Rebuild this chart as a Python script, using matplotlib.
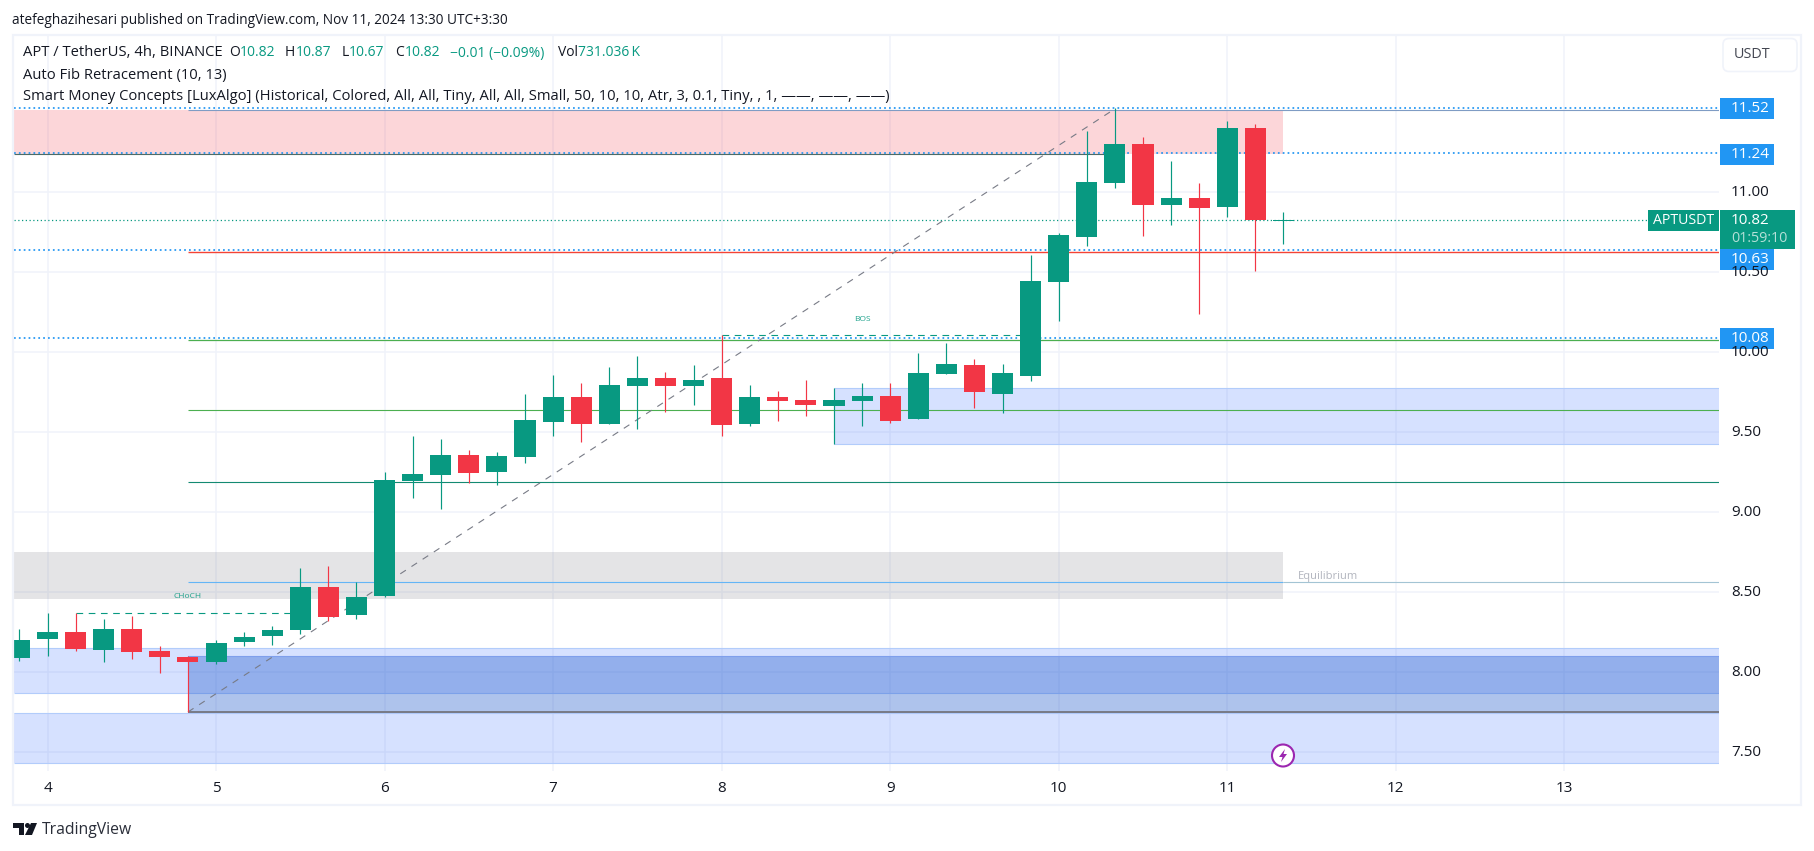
import matplotlib
matplotlib.use("Agg")
import matplotlib.pyplot as plt
from matplotlib.patches import Rectangle, FancyBboxPatch, Polygon, Circle

plt.rcParams['font.family'] = ['Open Sans', 'DejaVu Sans']

# candle index 0 = day 4, six candles per day
first_candle = -1
opens = [8.0875, 8.206, 8.25, 8.1375, 8.269, 8.131, 8.094, 8.0625, 8.1875, 8.225, 8.2625, 8.531, 8.356,
         8.475, 9.192, 9.231, 9.356, 9.25, 9.344, 9.5625, 9.719, 9.55, 9.7875, 9.8375, 9.7875,
         9.8375, 9.55, 9.719, 9.7, 9.6625, 9.694, 9.725, 9.581, 9.8625, 9.919, 9.7375, 9.85,
         10.4375, 10.719, 11.056, 11.3, 10.919, 10.9625, 10.906, 11.4, 10.82]
highs = [8.269, 8.369, 8.369, 8.331, 8.35, 8.1625, 8.10, 8.2, 8.25, 8.2875, 8.65, 8.6625, 8.5625,
         9.25, 9.475, 9.456, 9.3875, 9.375, 9.737, 9.856, 9.806, 9.906, 9.975, 9.875, 9.919,
         10.104, 9.794, 9.756, 9.825, 9.775, 9.806, 9.806, 9.994, 10.056, 9.956, 9.925, 10.606,
         10.742, 11.381, 11.523, 11.344, 11.194, 11.056, 11.444, 11.425, 10.875]
lows = [8.071, 8.10, 8.131, 8.0625, 8.081, 7.994, 7.748, 8.05, 8.1625, 8.169, 8.2375, 8.319, 8.331,
        8.47, 9.087, 9.019, 9.183, 9.169, 9.306, 9.475, 9.4375, 9.55, 9.519, 9.625, 9.669,
        9.475, 9.5375, 9.569, 9.6, 9.425, 9.5375, 9.556, 9.581, 9.8625, 9.65, 9.619, 9.819,
        10.194, 10.6625, 11.025, 10.725, 10.794, 10.2375, 10.844, 10.506, 10.675]
closes = [8.2, 8.25, 8.144, 8.269, 8.125, 8.094, 8.0625, 8.181, 8.219, 8.2625, 8.531, 8.344, 8.469,
          9.2, 9.237, 9.356, 9.244, 9.35, 9.575, 9.719, 9.55, 9.794, 9.8375, 9.7875, 9.825,
          9.544, 9.719, 9.694, 9.669, 9.7, 9.725, 9.569, 9.869, 9.925, 9.75, 9.869, 10.444,
          10.731, 11.0625, 11.3, 10.919, 10.9625, 10.9, 11.4, 10.825, 10.82]

price_ticks = [7.5, 8.0, 8.5, 9.0, 9.5, 10.0, 10.5, 11.0]
day_labels = ['4', '5', '6', '7', '8', '9', '10', '11', '12', '13']
fib_levels = [11.52, 11.24, 10.63, 10.08]
fib_tag_y = [108.5, 154.5, 259.5, 338.5]
last_price = 10.82

GREEN = '#089981'
RED = '#f23645'
BLUE = '#2196f3'
GRID = '#f0f3fa'
TEXT = '#131722'

W, H = 1814, 851
X0, X1 = 14, 1719
Y0, Y1 = 36, 771
PX_PER_CANDLE = 28.09


def main():
    fig = plt.figure(figsize=(W / 100, H / 100), dpi=100, facecolor='white')
    ax = fig.add_axes([X0 / W, 1 - Y1 / H, (X1 - X0) / W, (Y1 - Y0) / H])
    xmin = (X0 - 47.5) / PX_PER_CANDLE
    xmax = (X1 - 47.5) / PX_PER_CANDLE
    ax.set_xlim(xmin, xmax)
    ax.set_ylim(11 - (Y1 - 192) / 160, 11 + (192 - Y0) / 160)
    for s in ax.spines.values():
        s.set_visible(False)
    ax.set_xticks([])
    ax.set_yticks([])

    for p in price_ticks:
        ax.axhline(p, color=GRID, lw=1.1, zorder=1)
    for i in range(len(day_labels)):
        ax.axvline(i * 6, color=GRID, lw=1.1, zorder=1)

    # zones
    def zone(x_a, x_b, y_a, y_b, color, alpha, edge=None):
        ax.add_patch(Rectangle((x_a, y_b), x_b - x_a, y_a - y_b, facecolor=color, alpha=alpha, lw=0, zorder=2))
        if edge:
            ax.hlines([y_a, y_b], x_a, x_b, color=edge, lw=0.8, zorder=2)

    zone(xmin, 44, 11.51, 11.24, RED, 0.2)
    zone(xmin, 44, 8.75, 8.456, '#787b86', 0.2)
    zone(xmin, xmax, 8.15, 7.87, '#2962ff', 0.19, '#b2ccfb')
    zone(xmin, xmax, 7.744, 7.43, '#2962ff', 0.19, '#b2ccfb')
    zone(28, xmax, 9.775, 9.425, '#2962ff', 0.19, '#b2ccfb')
    zone(5, xmax, 8.10, 7.75, '#1450c8', 0.34, '#7f9fec')

    # levels, dotted fib lines sit under the solid ones
    for level in fib_levels:
        ax.hlines(level + 0.005, xmin, xmax, color=BLUE, lw=1.25, linestyles=(0, (1, 1.8)), zorder=2.5)
    ax.hlines(last_price + 0.003, xmin, xmax, color=GREEN, lw=0.9, linestyles=(0, (1, 2)), zorder=2.5)
    ax.hlines(11.515, 5, xmax, color='#7f9cc4', lw=0.8, zorder=3)
    ax.hlines(11.24, xmin, 38, color='#4d6b66', lw=0.8, zorder=3)
    ax.hlines(10.625, 5, xmax, color='#f44336', lw=1, zorder=3)
    ax.hlines(10.076, 5, xmax, color='#4caf50', lw=0.9, zorder=3)
    ax.hlines(9.635, 5, xmax, color='#4caf50', lw=0.8, zorder=3)
    ax.hlines(9.19, 5, xmax, color='#138a72', lw=0.8, zorder=3)
    ax.hlines(8.56, 5, 44, color='#64b5f6', lw=0.8, zorder=3)
    ax.hlines(8.56, 44, xmax, color='#a3c4d4', lw=0.8, zorder=3)
    ax.hlines(7.75, 5, xmax, color='#787b86', lw=1.4, zorder=3)

    ax.plot([5, 38], [7.75, 11.52], color='#787b86', lw=0.8, ls=(0, (6, 6)), zorder=3)
    ax.hlines(8.367, 1, 9, color=GREEN, lw=0.8, linestyles=(0, (6, 5)), zorder=3)
    ax.hlines(10.104, 24, 35, color=GREEN, lw=0.8, linestyles=(0, (6, 5)), zorder=3)
    ax.text(5, 8.47, 'CHoCH', color=GREEN, fontsize=6, ha='center', va='center', zorder=3, alpha=0.9)
    ax.text(29, 10.206, 'BOS', color=GREEN, fontsize=6, ha='center', va='center', zorder=3, alpha=0.9)
    ax.text(45.6, 8.60, 'Equilibrium', color='#b2b5be', fontsize=8, ha='center', va='center', zorder=3)

    # candles
    xs = [first_candle + i for i in range(len(opens))]
    colors = [GREEN if c >= o else RED for o, c in zip(opens, closes)]
    ax.vlines(xs, lows, highs, color=colors, lw=0.85, zorder=4)
    tops = [max(o, c) for o, c in zip(opens, closes)]
    bottoms = [min(o, c) for o, c in zip(opens, closes)]
    heights = [max(t - b, 0.006) for t, b in zip(tops, bottoms)]
    ax.bar(xs, heights, bottom=bottoms, width=0.75, color=colors, lw=0, zorder=4)

    # everything outside the chart pane, in pixel coordinates
    ov = fig.add_axes([0, 0, 1, 1], zorder=5)
    ov.set_xlim(0, W)
    ov.set_ylim(H, 0)
    ov.axis('off')
    ov.patch.set_alpha(0)

    ov.add_patch(Rectangle((12.5, 34.5), 1788, 770, fill=False, edgecolor=GRID, lw=1.6, zorder=1))

    def txt(x, y, s, color=TEXT, size=10.65, ha='left', **kw):
        return ov.text(x, y, s, color=color, fontsize=size, ha=ha, va='center', zorder=4, **kw)

    txt(12, 20, 'atefeghazihesari published on TradingView.com, Nov 11, 2024 13:30 UTC+3:30', size=9.85)
    txt(23, 53, 'APT / TetherUS, 4h, BINANCE')
    for x, s in [(229.6, 'O'), (285, 'H'), (341.6, 'L'), (395, 'C'), (558, 'Vol')]:
        txt(x, 53, s, size=10)
    for x, s in [(240, '10.82'), (296, '10.87'), (349, '10.67'), (404.5, '10.82'),
                 (450, '\u22120.01 (\u22120.09%)'), (578, '731.036\u2009K')]:
        txt(x, 53, s, color=GREEN, size=10)
    txt(23, 75, 'Auto Fib Retracement (10, 13)')
    txt(23, 97, 'Smart Money Concepts [LuxAlgo] (Historical, Colored, All, All, Tiny, All, All, Small, '
                '50, 10, 10, Atr, 3, 0.1, Tiny, , 1, \u2014\u2014, \u2014\u2014, \u2014\u2014)')

    ov.add_patch(FancyBboxPatch((1723, 38.5), 74, 33, boxstyle='round,pad=0,rounding_size=6',
                                facecolor='white', edgecolor=GRID, lw=1.2, mutation_aspect=1, zorder=3))
    txt(1752, 55, 'USDT', color='#434651', ha='center', size=10.4)

    def price_y(p):
        return 192 + (11 - p) * 160

    for p in price_ticks:
        txt(1731, price_y(p), f'{p:.2f}', size=11)
    for i, d in enumerate(day_labels):
        txt(47.5 + i * 6 * PX_PER_CANDLE, 788, d, ha='center', size=11)

    for level, y in zip(fib_levels, fib_tag_y):
        ov.add_patch(Rectangle((1720, y - 10.5), 54, 21, facecolor=BLUE, lw=0, zorder=3))
        txt(1731, y, f'{level:.2f}', color='white', size=11)

    ov.add_patch(Rectangle((1720, 210), 75, 39, facecolor=GREEN, lw=0, zorder=3))
    ov.add_patch(Rectangle((1648, 210), 71, 21, facecolor=GREEN, lw=0, zorder=3))
    txt(1683.5, 220.5, 'APTUSDT', color='white', ha='center', size=10.2)
    txt(1731, 220.5, f'{last_price:.2f}', color='white', size=11)
    txt(1731, 238, '01:59:10', color='#b5e0d8', size=10.4)

    # bolt badge
    ov.add_patch(Circle((1283, 755.5), 11, facecolor='white', edgecolor='#9c27b0', lw=1.5, zorder=3))
    ov.add_patch(Polygon([(1285, 749), (1279, 757), (1282.5, 757), (1281, 762), (1287, 754), (1283.5, 754)],
                         facecolor='#9c27b0', lw=0, zorder=4))

    # TradingView logo
    ov.add_patch(Polygon([(13, 823), (24, 823), (24, 835), (19, 835), (19, 828), (13, 828)],
                         facecolor=TEXT, lw=0))
    ov.add_patch(Circle((27.5, 825.5), 2.5, facecolor=TEXT, lw=0))
    ov.add_patch(Polygon([(31, 823), (37, 823), (32, 835), (25, 835)], facecolor=TEXT, lw=0))
    txt(42, 830, 'TradingView', color='#2a2e39', size=11.3)

    fig.savefig('out.png', dpi=100)


if __name__ == "__main__":
    main()
